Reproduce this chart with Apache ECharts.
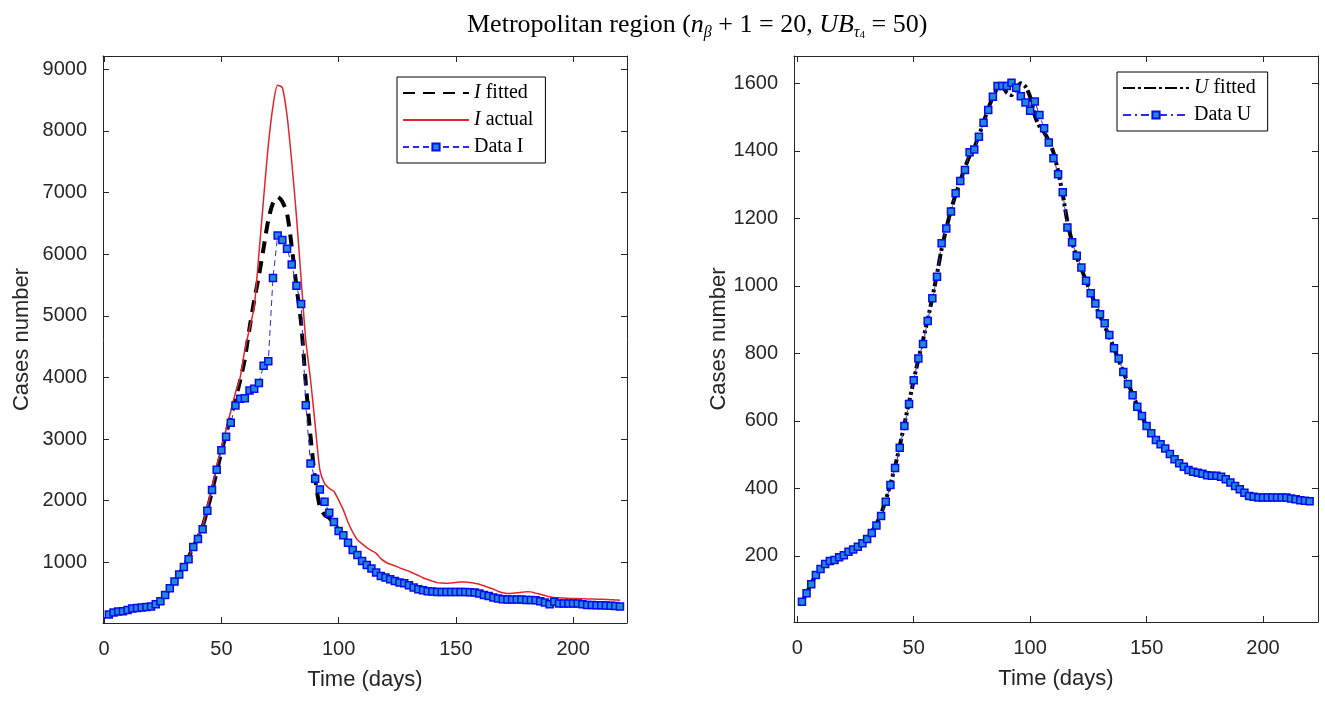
<!DOCTYPE html>
<html>
<head>
<meta charset="utf-8">
<script src="https://cdn.jsdelivr.net/npm/echarts@6/dist/echarts.min.js"></script>
<style>
html, body { margin: 0; padding: 0; background: #fff; }
#chart { width: 1325px; height: 705px; }
</style>
</head>
<body>
<div id="chart"></div>
<script>
// sampling days (every 2nd day)
var days = [2, 4, 6, 8, 10, 12, 14, 16, 18, 20,
    22, 24, 26, 28, 30, 32, 34, 36, 38, 40,
    42, 44, 46, 48, 50, 52, 54, 56, 58, 60,
    62, 64, 66, 68, 70, 72, 74, 76, 78, 80,
    82, 84, 86, 88, 90, 92, 94, 96, 98, 100,
    102, 104, 106, 108, 110, 112, 114, 116, 118, 120,
    122, 124, 126, 128, 130, 132, 134, 136, 138, 140,
    142, 144, 146, 148, 150, 152, 154, 156, 158, 160,
    162, 164, 166, 168, 170, 172, 174, 176, 178, 180,
    182, 184, 186, 188, 190, 192, 194, 196, 198, 200,
    202, 204, 206, 208, 210, 212, 214, 216, 218, 220];

var iFitted = [150, 170, 190, 205, 220, 240, 255, 265, 275, 285,
    320, 370, 460, 570, 690, 810, 940, 1080, 1250, 1400,
    1580, 1850, 2150, 2470, 2790, 3080, 3370, 3650, 3950, 4300,
    4800, 5250, 5650, 6100, 6550, 6830, 6930, 6850, 6660, 6120,
    5480, 4880, 3900, 3050, 2350, 1900, 1770, 1720, 1620, 1530,
    1420, 1310, 1200, 1110, 1030, 960, 900, 840, 790, 750,
    720, 690, 665, 645, 620, 595, 570, 550, 535, 525,
    520, 518, 517, 517, 517, 516, 515, 512, 505, 492,
    472, 452, 432, 415, 403, 397, 395, 394, 393, 390,
    387, 382, 370, 352, 340, 338, 333, 331, 330, 330,
    330, 328, 320, 312, 308, 305, 303, 299, 293, 285];

var iActual = [150, 170, 190, 205, 220, 240, 255, 265, 275, 285,
    320, 370, 460, 570, 690, 810, 940, 1080, 1250, 1410,
    1600, 1900, 2220, 2560, 2870, 3150, 3450, 3750, 4000, 4450,
    4790, 5150, 6000, 6900, 7760, 8400, 8740, 8700, 8250, 7500,
    6620, 5600, 4600, 3970, 3230, 2500, 2280, 2200, 2150, 2010,
    1850, 1650, 1490, 1365, 1300, 1238, 1190, 1145, 1060, 1005,
    968, 945, 910, 882, 855, 820, 785, 750, 720, 695,
    670, 663, 660, 665, 672, 680, 680, 672, 660, 644,
    620, 590, 563, 530, 505, 493, 497, 505, 512, 522,
    520, 500, 482, 460, 440, 428, 423, 420, 416, 413,
    411, 408, 406, 404, 402, 400, 397, 393, 389, 385];

var iData = [153, 185, 201, 205, 227, 250, 260, 266, 276, 282,
    320, 369, 470, 579, 687, 800, 924, 1049, 1248, 1378,
    1535, 1838, 2171, 2502, 2819, 3036, 3263, 3543, 3652, 3662,
    3786, 3814, 3911, 4191, 4261, 5612, 6302, 6228, 6087, 5833,
    5487, 5191, 3548, 2604, 2356, 2183, 1983, 1805, 1653, 1507,
    1437, 1319, 1199, 1118, 1021, 956, 898, 833, 778, 752,
    725, 697, 671, 660, 627, 590, 563, 546, 530, 525,
    519, 519, 519, 519, 519, 519, 519, 515, 509, 493,
    470, 454, 428, 412, 401, 396, 396, 396, 396, 390,
    390, 385, 369, 347, 320, 358, 331, 331, 331, 331,
    331, 320, 309, 309, 304, 304, 300, 295, 290, 282];

var uFitted = [60, 90, 118, 142, 160, 174, 184, 190, 196, 203,
    211, 219, 228, 240, 255, 272, 295, 325, 365, 412,
    465, 525, 590, 655, 720, 782, 840, 900, 965, 1035,
    1110, 1170, 1225, 1270, 1310, 1350, 1385, 1410, 1445, 1485,
    1525, 1560, 1585, 1590, 1572, 1565, 1585, 1600, 1590, 1560,
    1505, 1472, 1455, 1430, 1395, 1340, 1270, 1190, 1130, 1085,
    1050, 1015, 980, 945, 910, 880, 850, 815, 780, 745,
    712, 678, 645, 614, 585, 563, 545, 530, 517, 502,
    487, 475, 464, 455, 449, 446, 443, 440, 437, 436,
    433, 427, 418, 407, 397, 388, 380, 376, 374, 373,
    373, 373, 373, 373, 373, 371, 368, 365, 363, 362];

var uData = [64, 89, 116, 143, 161, 176, 185, 188, 196, 202,
    212, 219, 227, 237, 250, 268, 290, 318, 360, 410,
    460, 520, 585, 650, 720, 785, 828, 896, 963, 1027,
    1126, 1170, 1220, 1274, 1311, 1343, 1396, 1404, 1442, 1483,
    1521, 1560, 1592, 1592, 1592, 1602, 1587, 1562, 1543, 1519,
    1546, 1506, 1467, 1425, 1378, 1331, 1277, 1173, 1129, 1089,
    1054, 1015, 978, 948, 916, 889, 854, 815, 785, 745,
    709, 676, 642, 614, 585, 563, 543, 531, 518, 502,
    486, 474, 464, 454, 449, 446, 443, 439, 437, 437,
    434, 427, 417, 407, 397, 387, 377, 375, 373, 373,
    373, 373, 373, 373, 373, 370, 368, 365, 363, 362];

var xTicks = [0, 50, 100, 150, 200];
var iTicks = [1000, 2000, 3000, 4000, 5000, 6000, 7000, 8000, 9000];
var uTicks = [200, 400, 600, 800, 1000, 1200, 1400, 1600];

var axisColor = '#262626';
var sans = 'Liberation Sans, Arial, sans-serif';
var serif = 'Liberation Serif, Times New Roman, serif';

function pairs(vals) {
    return days.map(function (d, i) { return [d, vals[i]]; });
}

function axis(gridIndex, pos, min, max, ticks, withLabels, name, nameGap) {
    return {
        type: 'value',
        gridIndex: gridIndex,
        position: pos,
        min: min,
        max: max,
        name: withLabels ? name : '',
        nameLocation: 'middle',
        nameGap: nameGap,
        nameTextStyle: { fontFamily: sans, fontSize: 22, color: axisColor },
        splitLine: { show: false },
        axisLine: { show: true, onZero: false, lineStyle: { color: axisColor, width: 1 } },
        axisTick: { show: true, inside: true, length: 6, customValues: ticks, lineStyle: { color: axisColor } },
        axisLabel: {
            show: withLabels, customValues: ticks, margin: 16, color: axisColor,
            fontFamily: sans, fontSize: 20,
            formatter: function (v) { return String(v); }
        }
    };
}

function fitted(name, vals, xi, dash) {
    return {
        name: name, type: 'line', xAxisIndex: xi, yAxisIndex: xi,
        data: pairs(vals), symbol: 'none', smooth: 0.25,
        lineStyle: { color: '#000', width: 4, type: dash }, itemStyle: { color: '#000' },
        z: 2
    };
}

function dataSeries(name, vals, xi, dash) {
    return {
        name: name, type: 'line', xAxisIndex: xi, yAxisIndex: xi,
        data: pairs(vals), symbol: 'rect', symbolSize: 7, showAllSymbol: true,
        lineStyle: { color: '#2b2bf0', width: 1, type: dash },
        itemStyle: { color: '#1f8ad6', borderColor: '#0a0af0', borderWidth: 1.5 },
        z: 4
    };
}

var legendRich = {
    it: { fontFamily: serif, fontStyle: 'italic', fontSize: 20, color: '#000' },
    rm: { fontFamily: serif, fontSize: 20, color: '#000' }
};
function legendLabel(name) {
    var parts = name.split(' ');
    if (parts[0] === 'Data') return '{rm|' + name + '}';
    return '{it|' + parts[0] + '}{rm| ' + parts[1] + '}';
}
// lines without markers get a hidden legend symbol
function legendItem(name) {
    if (name.indexOf('Data') === 0) return { name: name };
    return { name: name, itemStyle: { opacity: 0, color: 'rgba(0,0,0,0)', borderWidth: 0 } };
}
function legend(names, left, top) {
    return {
        data: names.map(legendItem), orient: 'vertical', left: left, top: top,
        itemWidth: 66, itemHeight: 9, itemGap: 7,
        padding: [6, 12, 6, 5],
        backgroundColor: '#fff', borderColor: '#000', borderWidth: 1,
        formatter: legendLabel,
        textStyle: { rich: legendRich, lineHeight: 20 }
    };
}

var chart = echarts.init(document.getElementById('chart'));
chart.setOption({
    animation: false,
    backgroundColor: '#fff',
    title: {
        text: '{r|Metropolitan region (}{i|n}{s|β}{r| + 1 = 20, }{i|UB}{s|τ}{ss|4}{r| = 50)}',
        left: 462, top: 4,
        textStyle: {
            fontWeight: 'normal',
            rich: {
                r: { fontFamily: serif, fontSize: 26, fontWeight: 'normal', color: '#000', lineHeight: 32 },
                i: { fontFamily: serif, fontSize: 26, fontWeight: 'normal', fontStyle: 'italic', color: '#000', lineHeight: 32 },
                s: { fontFamily: serif, fontSize: 16, fontWeight: 'normal', fontStyle: 'italic', color: '#000', verticalAlign: 'bottom', lineHeight: 24 },
                ss: { fontFamily: serif, fontSize: 11, fontWeight: 'normal', color: '#000', verticalAlign: 'bottom', lineHeight: 18 }
            }
        }
    },
    grid: [
        { left: 103, top: 56, width: 524, height: 567 },
        { left: 794, top: 56, width: 524, height: 566 }
    ],
    xAxis: [
        axis(0, 'bottom', -0.5, 223, xTicks, true, 'Time (days)', 46),
        axis(0, 'top', -0.5, 223, xTicks, false),
        axis(1, 'bottom', -1.4, 223.6, xTicks, true, 'Time (days)', 46),
        axis(1, 'top', -1.4, 223.6, xTicks, false)
    ],
    yAxis: [
        axis(0, 'left', 15, 9215, iTicks, true, 'Cases number', 70),
        axis(0, 'right', 15, 9215, iTicks, false),
        axis(1, 'left', 4, 1681, uTicks, true, 'Cases number', 62),
        axis(1, 'right', 4, 1681, uTicks, false)
    ],
    legend: [
        legend(['I fitted', 'I actual', 'Data I'], 397, 77),
        legend(['U fitted', 'Data U'], 1117, 72)
    ],
    series: [
        fitted('I fitted', iFitted, 0, [12, 8]),
        {
            name: 'I actual', type: 'line', xAxisIndex: 0, yAxisIndex: 0,
            data: pairs(iActual), symbol: 'none', smooth: 0.25,
            lineStyle: { color: '#e3242b', width: 1.5 }, itemStyle: { color: '#e3242b' },
            z: 3
        },
        dataSeries('Data I', iData, 0, [6, 4]),
        fitted('U fitted', uFitted, 2, [12, 3, 3, 3]),
        dataSeries('Data U', uData, 2, [8, 4, 2, 4])
    ]
});
</script>
</body>
</html>
